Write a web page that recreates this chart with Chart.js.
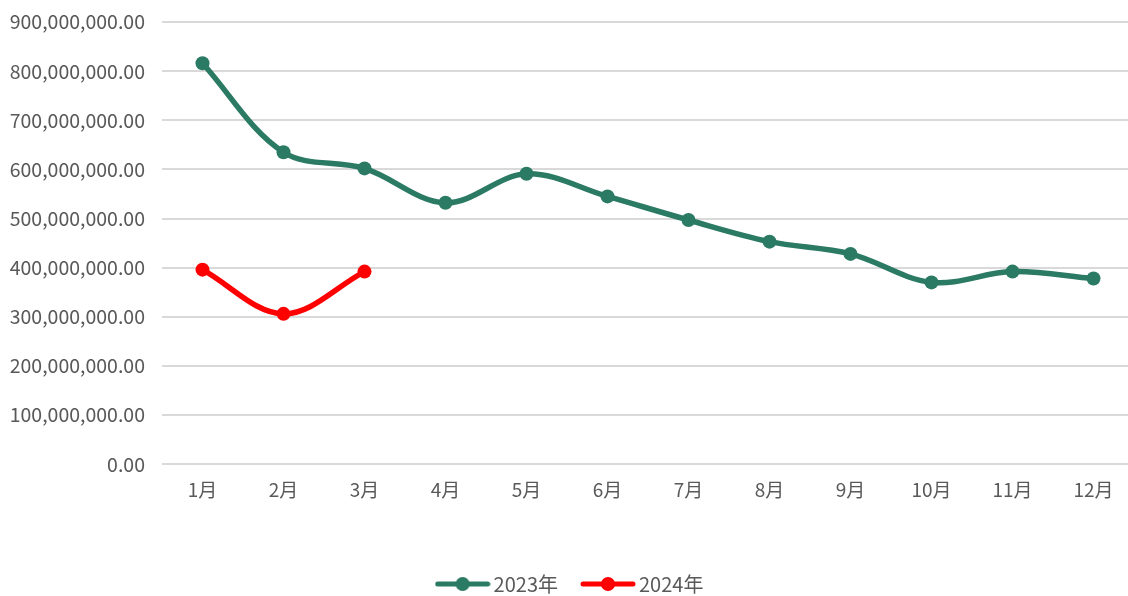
<!DOCTYPE html>
<html>
<head>
<meta charset="utf-8">
<script src="https://cdn.jsdelivr.net/npm/chart.js@4/dist/chart.umd.min.js"></script>
<style>
  html, body { margin: 0; padding: 0; background: #fff; overflow: hidden; }
  canvas { display: block; }
</style>
</head>
<body>
<canvas id="salesChart" width="1141" height="596"></canvas>
<script>
// Monthly totals, 2023 vs 2024
const months = ["1月", "2月", "3月", "4月", "5月", "6月", "7月", "8月", "9月", "10月", "11月", "12月"];
const sales2023 = [816e6, 635e6, 602e6, 532e6, 591e6, 545e6, 497e6, 453e6, 428e6, 370e6, 392e6, 378e6];
const sales2024 = [396e6, 306e6, 392e6];
const yTicks = [0, 1e8, 2e8, 3e8, 4e8, 5e8, 6e8, 7e8, 8e8, 9e8];

const GREEN = "#2b7a63";
const RED = "#ff0000";
const FONT = "'Noto Sans CJK JP', 'Noto Sans', sans-serif";

// legend swatch: a thick line with a dot in the middle
function swatch(color) {
  const c = document.createElement("canvas");
  c.width = 56; c.height = 16;
  const g = c.getContext("2d");
  g.strokeStyle = color;
  g.lineWidth = 5;
  g.lineCap = "round";
  g.beginPath(); g.moveTo(3, 8); g.lineTo(53, 8); g.stroke();
  g.fillStyle = color;
  g.beginPath(); g.arc(28, 8, 7, 0, Math.PI * 2); g.fill();
  return c;
}

const fmt = (v) => v.toLocaleString("en-US", { minimumFractionDigits: 2, maximumFractionDigits: 2 });

new Chart(document.getElementById("salesChart"), {
  type: "line",
  data: {
    labels: months,
    datasets: [
      { label: "2023年", data: sales2023, borderColor: GREEN, backgroundColor: GREEN, legendStyle: swatch(GREEN) },
      { label: "2024年", data: sales2024, borderColor: RED, backgroundColor: RED, legendStyle: swatch(RED) }
    ]
  },
  options: {
    responsive: false,
    animation: false,
    layout: { padding: { top: 22, left: 4, right: 0, bottom: -8 } },
    elements: {
      line: { borderWidth: 5.5, tension: 0.35, borderCapStyle: "round" },
      point: { radius: 7, hoverRadius: 7, borderWidth: 0 }
    },
    scales: {
      x: {
        offset: true,
        grid: { display: false },
        border: { display: false },
        ticks: { color: "#595959", font: { family: FONT, size: 19 }, padding: 6 },
        afterFit: (s) => { s.height += 38; }
      },
      y: {
        min: 0,
        max: 9e8,
        afterBuildTicks: (s) => { s.ticks = yTicks.map(v => ({ value: v })); },
        afterFit: (s) => { s.width = 158; s.paddingTop = 0; s.paddingBottom = 0; },
        grid: { color: "#d9d9d9", lineWidth: 2, drawTicks: false },
        border: { display: false },
        ticks: { color: "#595959", font: { family: FONT, size: 19.5 }, padding: 17, callback: (v) => fmt(v) }
      }
    },
    plugins: {
      tooltip: { enabled: false },
      legend: {
        position: "bottom",
        labels: {
          usePointStyle: true,
          pointStyleWidth: 42,
          padding: 29,
          color: "#595959",
          font: { family: FONT, size: 20 },
          generateLabels: (chart) => chart.data.datasets.map((ds, i) => ({
            text: ds.label,
            pointStyle: ds.legendStyle,
            fillStyle: ds.borderColor,
            strokeStyle: ds.borderColor,
            fontColor: "#595959",
            lineWidth: 0,
            datasetIndex: i
          }))
        }
      }
    }
  }
});
</script>
</body>
</html>
